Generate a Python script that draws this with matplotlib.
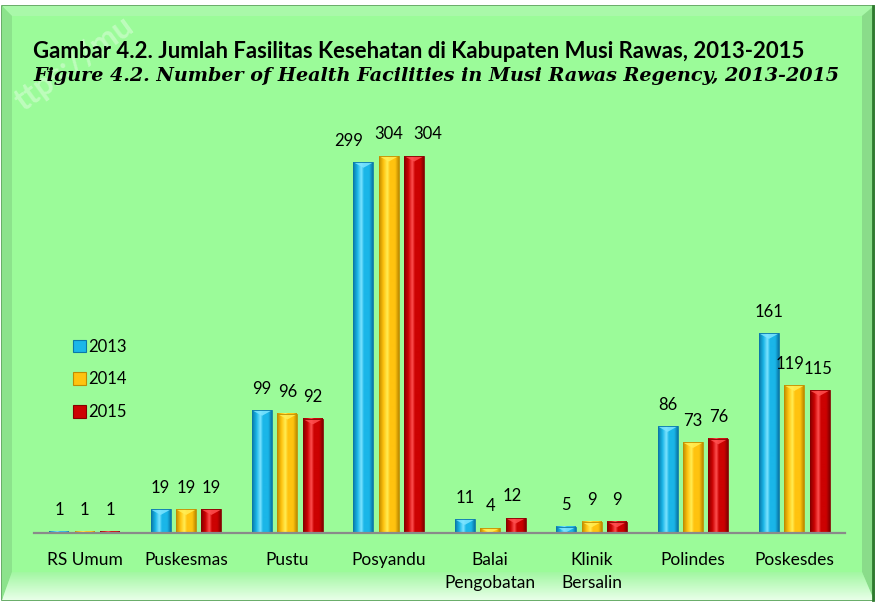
import numpy as np
import matplotlib
matplotlib.use("Agg")
import matplotlib.pyplot as plt
from matplotlib.patches import Polygon, Rectangle, Patch
from matplotlib.colors import LinearSegmentedColormap

# ---------------- data ----------------
categories = ["RS Umum", "Puskesmas", "Pustu", "Posyandu",
              "Balai\nPengobatan", "Klinik\nBersalin", "Polindes", "Poskesdes"]
years = ["2013", "2014", "2015"]
v2013 = [1, 19, 99, 299, 11, 5, 86, 161]
v2014 = [1, 19, 96, 304, 4, 9, 73, 119]
v2015 = [1, 19, 92, 304, 12, 9, 76, 115]

title_id = "Gambar 4.2. Jumlah Fasilitas Kesehatan di Kabupaten Musi Rawas, 2013-2015"
title_en = "Figure 4.2. Number of Health Facilities in Musi Rawas Regency, 2013-2015"
watermark = "ttps://mu"

# ---------------- style / layout ----------------
W, H = 877, 603
series_colors = [  # (edge, main, highlight)
    ("#0A78A8", "#1AB6E8", "#7DE4FF"),
    ("#C08C00", "#FFC30F", "#FFEE55"),
    ("#860000", "#CC0202", "#FF5050"),
]
label_nudge_px = {(3, 0): -15, (3, 2): 14, (7, 1): -4, (7, 2): -2, (4, 2): -3}
UI = ["Lato", "DejaVu Sans"]

fig = plt.figure(figsize=(W / 100, H / 100), dpi=100, facecolor="white")

# ---- background frame (figure pixel coordinates) ----
bg = fig.add_axes([0, 0, 1, 1])
bg.set_xlim(0, W)
bg.set_ylim(H, 0)
bg.axis("off")
bg.set_zorder(0)

L, T, R, B = 2, 6, 874, 600
iL, iT, iR, iB = 12, 16, 862, 572
bg.add_patch(Rectangle((L, T), R - L, B - T, fc="#99F599", ec="#4E9E4E", lw=1.2))
bg.add_patch(Polygon([(L, T), (R, T), (iR, iT), (iL, iT)], closed=True, fc="#A9F8A9", ec="none"))
bg.add_patch(Polygon([(L, T), (iL, iT), (iL, iB), (L, B)], closed=True, fc="#8CE38C", ec="none"))
bg.add_patch(Polygon([(R, T), (R, B), (iR, iB), (iR, iT)], closed=True, fc="#8ADC8A", ec="none"))
bottom_poly = Polygon([(L, B), (iL, iB), (iR, iB), (R, B)], closed=True, fc="none", ec="none")
bg.add_patch(bottom_poly)
grad = np.linspace(0, 1, 64)[:, None]
cm_bottom = LinearSegmentedColormap.from_list("bot", ["#A2F7A2", "#E8FFE8"])
im = bg.imshow(np.repeat(grad, 4, axis=1), cmap=cm_bottom, extent=[L, R, B, iB],
               aspect="auto", origin="upper", zorder=1)
im.set_clip_path(bottom_poly)
bg.add_patch(Rectangle((iL, iT), iR - iL, iB - iT, fc="#9BFB99", ec="none", zorder=1))
bg.plot([R - 1, R - 1], [T, B], color="#2F7A2F", lw=2, zorder=2)
bg.set_xlim(0, W)
bg.set_ylim(H, 0)

# faint watermark
bg.text(24, 112, watermark, rotation=36, rotation_mode="anchor", ha="left", va="baseline",
        fontsize=23, fontweight="bold", family=UI, color="white", alpha=0.35, zorder=2)

# ---- titles ----
fig.text(33 / W, 1 - 58 / H, title_id, family=UI, fontweight="bold", fontsize=15.9,
         color="black", ha="left", va="baseline")
fig.text(33 / W, 1 - 81 / H, title_en, family=["DejaVu Serif"], fontweight="bold",
         style="italic", fontsize=13.8, color="black", ha="left", va="baseline")

# ---- main axes ----
ax_left, ax_right, ax_base = 34, 845, 533
px_per_unit = 1.24
ymax = 320
ax = fig.add_axes([ax_left / W, 1 - ax_base / H, (ax_right - ax_left) / W,
                   ymax * px_per_unit / H])
ax.set_zorder(1)
ax.patch.set_alpha(0)

x = np.arange(len(categories))
bw = 0.197
off = 0.25
all_vals = [v2013, v2014, v2015]
ax.set_xlim(-0.5, len(categories) - 0.5)
ax.set_ylim(0, ymax)

tri_depth = 5.5 / px_per_unit
for si, vals in enumerate(all_vals):
    edge, main, hi = series_colors[si]
    cmap = LinearSegmentedColormap.from_list(
        f"s{si}", [(0, edge), (0.22, main), (0.42, hi), (0.55, main), (0.82, main), (1, edge)])
    bars = ax.bar(x + (si - 1) * off, vals, width=bw, color=main, edgecolor="none", zorder=2)
    for bi, bar in enumerate(bars):
        x0, w, h = bar.get_x(), bar.get_width(), bar.get_height()
        img = np.linspace(0, 1, 40)[None, :]
        ax.imshow(img, cmap=cmap, extent=[x0, x0 + w, 0, h], aspect="auto",
                  interpolation="bilinear", zorder=3)
        d = min(tri_depth, h)
        ax.add_patch(Polygon([(x0, h), (x0 + w, h), (x0 + w / 2, h - d)], closed=True,
                             fc=hi, ec="none", alpha=0.85, zorder=4))
        ax.add_patch(Rectangle((x0, 0), w, h, fc="none", ec=edge, lw=0.6, zorder=5))
        nud = label_nudge_px.get((bi, si), 0)
        ax.annotate(f"{vals[bi]}", (x0 + w / 2, h), xytext=(nud * 0.72, 12.0),
                    textcoords="offset points", ha="center", va="baseline",
                    family=UI, fontsize=12, color="black", zorder=6)

ax.set_xlim(-0.5, len(categories) - 0.5)
ax.set_ylim(0, ymax)

for s in ["top", "right", "left"]:
    ax.spines[s].set_visible(False)
ax.spines["bottom"].set_color("#8A8A8A")
ax.spines["bottom"].set_linewidth(1.6)
ax.spines["bottom"].set_zorder(7)
ax.set_yticks([])
ax.set_xticks(x)
ax.set_xticklabels(categories, family=UI, fontsize=12.5, linespacing=1.5)
ax.tick_params(axis="x", length=0, pad=14)

# ---- legend ----
handles = [Patch(facecolor=series_colors[i][1], edgecolor=series_colors[i][0], lw=0.8)
           for i in range(3)]
leg = ax.legend(handles, years, loc="center left", bbox_to_anchor=(73 / W, 1 - 379.5 / H),
                bbox_transform=fig.transFigure, frameon=False, prop={"family": UI, "size": 12},
                handlelength=0.78, handleheight=0.78, handletextpad=0.15,
                labelspacing=1.0, borderpad=0, borderaxespad=0)

fig.savefig("out.png", dpi=100, facecolor="white")
